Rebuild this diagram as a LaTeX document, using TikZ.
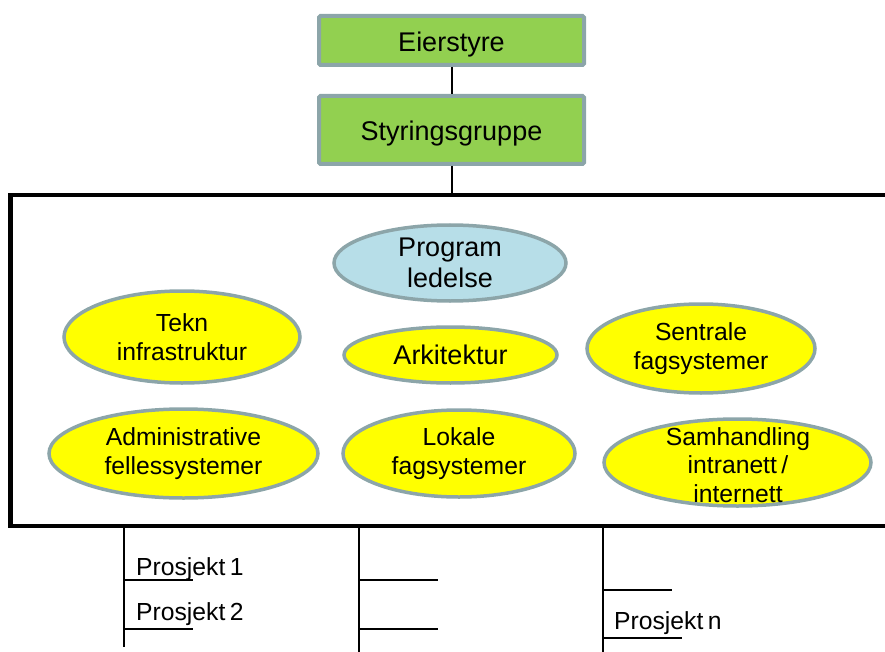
\documentclass[tikz,border=0pt]{standalone}
\usepackage{fontspec}
\setmainfont{Liberation Sans}
\newfontfamily\tightsans[WordSpace=0.65]{Liberation Sans}
\usetikzlibrary{shapes.geometric}
\definecolor{edgegrey}{HTML}{8CA5A9}
\definecolor{boardgreen}{HTML}{92D050}
\definecolor{ovalyellow}{HTML}{FFFF00}
\definecolor{ovalblue}{HTML}{B7DEE8}
\begin{document}
\begin{tikzpicture}[x=1pt,y=-1pt,
  govbox/.style={draw=edgegrey, line width=4pt, fill=boardgreen,
    rounded corners=1.5pt, minimum width=265pt, inner sep=0pt,
    font=\fontsize{27}{31}\selectfont, text height=22pt, text depth=0pt},
  oval/.style={ellipse, draw=edgegrey, line width=3.5pt, fill=ovalyellow,
    inner sep=0pt, align=center, font=\fontsize{24.7}{28.5}\selectfont},
  bigoval/.style={oval, font=\fontsize{27}{31.5}\selectfont},
  ovaltext/.style={inner sep=0pt, align=center, font=\tightsans\fontsize{24.7}{28.5}\selectfont},
  frame/.style={draw=black, line width=4.5pt, inner sep=0pt},
  link/.style={draw=black, line width=2pt},
  branch/.style={draw=black, line width=2pt},
  projlabel/.style={anchor=base west, inner sep=0pt, font=\tightsans\fontsize{24.7}{28.5}\selectfont}]

  \useasboundingbox (0,0) rectangle (885,652);
  \clip (0,0) rectangle (885,652);

  % governance boxes
  \node[govbox, minimum height=49pt] (eier) at (451.5,40.5) {Eierstyre};
  \node[govbox, minimum height=68pt] (styr) at (451.5,130) {Styringsgruppe};

  % programme frame (runs past the right edge)
  \node[frame, minimum width=884.5pt, minimum height=331pt] (board) at (452.75,360.5) {};

  \draw[link] (eier) -- (styr);
  \draw[link] (styr.south) -- (styr.south |- board.north);

  % areas inside the frame
  \node[bigoval, fill=ovalblue, minimum width=232pt, minimum height=76pt] (prog) at (450,263) {Program\\ledelse};
  \node[bigoval, minimum width=213pt, minimum height=56pt] (arki) at (450.5,355) {Arkitektur};
  \node[oval, minimum width=236pt, minimum height=92pt] (tekn) at (182,337) {Tekn\\infrastruktur};
  \node[oval, minimum width=228pt, minimum height=89pt] (sent) at (701,348.5) {Sentrale\\fagsystemer};
  \node[oval, minimum width=269pt, minimum height=89pt] (admin) at (183.5,453.5) {Administrative\\fellessystemer};
  \node[oval, minimum width=232pt, minimum height=87pt] (lok) at (459,453.5) {Lokale\\fagsystemer};
  \node[oval, minimum width=267pt, minimum height=87pt] (samh) at (737.5,462.5) {};
  \node[ovaltext] (samhtext) at (738,465) {Samhandling\\intranett /\\internett};

  % project branches below the frame
  \coordinate (t1) at (124,647);
  \coordinate (t2) at (359,652);
  \coordinate (t3) at (603,652);
  \draw[branch] (board.south -| t1) -- (t1);
  \draw[branch] (board.south -| t2) -- (t2);
  \draw[branch] (board.south -| t3) -- (t3);

  \coordinate (h1) at (193,580);
  \coordinate (h2) at (193,629);
  \coordinate (h3) at (438,580);
  \coordinate (h4) at (438,629);
  \coordinate (h5) at (672,590);
  \coordinate (h6) at (682,638);
  \draw[branch] (t1 |- h1) -- (h1);
  \draw[branch] (t1 |- h2) -- (h2);
  \draw[branch] (t2 |- h3) -- (h3);
  \draw[branch] (t2 |- h4) -- (h4);
  \draw[branch] (t3 |- h5) -- (h5);
  \draw[branch] (t3 |- h6) -- (h6);

  \node[projlabel] (p1) at (136,575) {Prosjekt 1};
  \node[projlabel] (p2) at (136,620) {Prosjekt 2};
  \node[projlabel] (pn) at (614,629) {Prosjekt n};
\end{tikzpicture}
\end{document}
